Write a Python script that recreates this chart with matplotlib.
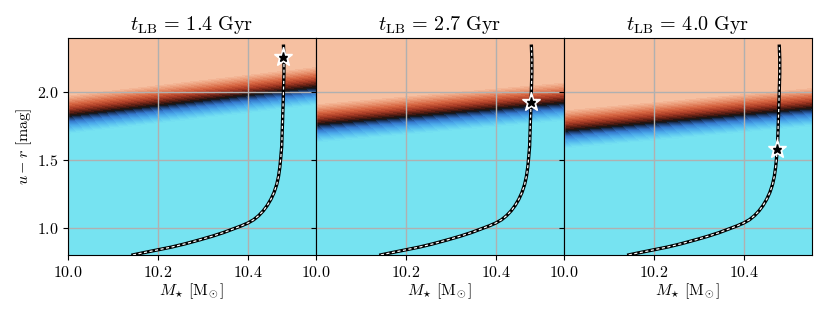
import numpy as np
import matplotlib
matplotlib.use("Agg")
import matplotlib.pyplot as plt
from matplotlib.colors import LinearSegmentedColormap

plt.rcParams["font.family"] = "serif"
plt.rcParams["font.serif"] = ["cmr10"]
plt.rcParams["mathtext.fontset"] = "cm"
plt.rcParams["axes.formatter.use_mathtext"] = True

# lookback times of the three snapshots
t_lb = ["1.4", "2.7", "4.0"]

# galaxy track in the mass-colour plane (same for every panel)
track_mass = [10.144, 10.17, 10.20, 10.23, 10.26, 10.293, 10.32, 10.345,
              10.365, 10.385, 10.40, 10.412, 10.423, 10.433, 10.442, 10.45,
              10.457, 10.463, 10.467, 10.470, 10.472, 10.474, 10.475, 10.476,
              10.477, 10.478, 10.479, 10.479, 10.478]
track_color = [0.80, 0.818, 0.838, 0.858, 0.882, 0.912, 0.938, 0.965,
               0.99, 1.015, 1.037, 1.06, 1.09, 1.125, 1.165, 1.21,
               1.26, 1.32, 1.38, 1.45, 1.52, 1.60, 1.70, 1.80,
               1.90, 2.02, 2.14, 2.25, 2.34]

# galaxy position at each snapshot
star_mass = [10.477, 10.478, 10.473]
star_color = [2.26, 1.93, 1.58]

# red/blue dividing line at M=10.0 and M=10.55 for each snapshot
div_left = [1.83, 1.765, 1.72]
div_right = [2.04, 1.925, 1.885]
width_red = 0.16
width_blue = 0.13

cmap = LinearSegmentedColormap.from_list("rb", [
    (0.00, "#76e3f1"),
    (0.10, "#62ccf0"),
    (0.22, "#4aa8ea"),
    (0.34, "#3478cc"),
    (0.44, "#1c3766"),
    (0.50, "#111111"),
    (0.57, "#5a1d12"),
    (0.66, "#a83a24"),
    (0.76, "#d5633f"),
    (0.88, "#eb9a76"),
    (1.00, "#f7c4a6"),
])

xlim = (10.0, 10.55)
ylim = (0.8, 2.4)
gx = np.linspace(xlim[0], xlim[1], 300)
gy = np.linspace(ylim[0], ylim[1], 400)
X, Y = np.meshgrid(gx, gy)

fig, axes = plt.subplots(1, 3, figsize=(8.3, 3.12), dpi=100, sharey=True)
fig.subplots_adjust(left=0.082, right=0.978, top=0.878, bottom=0.183, wspace=0)

for i, ax in enumerate(axes):
    centre = div_left[i] + (div_right[i] - div_left[i]) * (X - xlim[0]) / (xlim[1] - xlim[0])
    d = Y - centre
    z = np.where(d > 0, d / width_red, d / width_blue)
    z = np.clip(z, -1, 1)
    ax.contourf(X, Y, z, levels=np.linspace(-1, 1, 33), cmap=cmap,
                vmin=-1, vmax=1, extend="both")

    ax.plot(track_mass, track_color, color="black", lw=2.4)
    ax.plot(track_mass, track_color, color="white", lw=0.9, ls=(0, (2.5, 2)))
    ax.plot(star_mass[i], star_color[i], marker="*", ms=14, color="white",
            mec="white", zorder=5)
    ax.plot(star_mass[i], star_color[i], marker="*", ms=6.5, color="black", zorder=6)

    ax.set_xlim(xlim)
    ax.set_ylim(ylim)
    ax.set_xticks([10.0, 10.2, 10.4])
    ax.set_yticks([1.0, 1.5, 2.0])
    ax.grid(True, color="#b0b0b0", lw=1.0)
    ax.tick_params(labelsize=11.5)
    ax.set_title(r"$t_{\rm LB}\, =\, %s\ {\rm Gyr}$" % t_lb[i], fontsize=14.5)
    ax.set_xlabel(r"$M_{\star}\ [{\rm M}_{\!\odot}]$", fontsize=11.5, labelpad=1)

axes[0].set_ylabel(r"$u - r\ [{\rm mag}]$", fontsize=11.5, labelpad=2)

plt.savefig("out.png", dpi=100)
